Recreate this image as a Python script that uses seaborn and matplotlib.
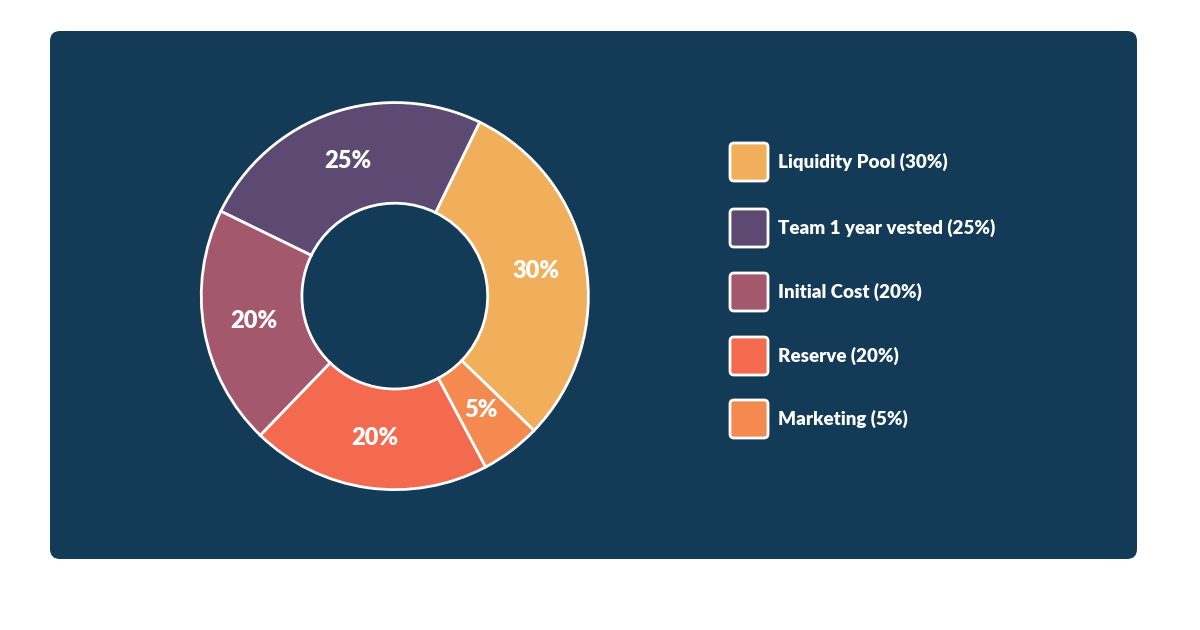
import matplotlib
matplotlib.use("Agg")
import matplotlib.pyplot as plt
import seaborn as sns
from matplotlib.patches import FancyBboxPatch

categories = ["Liquidity Pool", "Team 1 year vested", "Initial Cost", "Reserve", "Marketing"]
shares = [30, 25, 20, 20, 5]
colors = ["#F1AF5B", "#5C4A72", "#A3586D", "#F46A4E", "#F48A4F"]

BG = "#133A57"
sns.set_theme(style="white")
plt.rcParams["font.family"] = ["Lato", "DejaVu Sans"]

fig = plt.figure(figsize=(12, 6.3), dpi=100, facecolor="white")

# full-figure pixel axes for background card and legend
base = fig.add_axes([0, 0, 1, 1])
base.set_xlim(0, 1200)
base.set_ylim(630, 0)
base.axis("off")
base.add_patch(FancyBboxPatch((50, 31), 1087, 528, boxstyle="round,pad=0,rounding_size=10",
                              facecolor=BG, edgecolor="none"))

ys = [162, 228, 292, 356, 419]
for y, cat, val, col in zip(ys, categories, shares, colors):
    base.add_patch(FancyBboxPatch((730, y - 19), 38, 38, boxstyle="round,pad=0,rounding_size=4",
                                  facecolor=col, edgecolor="white", linewidth=2))
    base.text(778, y, f"{cat} ({val}%)", color="white", fontsize=13.5,
              fontweight="heavy", va="center", ha="left")

ax = fig.add_axes([0.127, 0.146, 0.404, 0.768])
wedges, texts, autotexts = ax.pie(
    shares, colors=colors, startangle=-44, counterclock=True,
    autopct="%d%%", pctdistance=0.74, radius=1,
    wedgeprops=dict(width=0.52, edgecolor="white", linewidth=2),
    textprops=dict(color="white", fontsize=17, fontweight="heavy"),
)
ax.set_aspect("equal")
ax.axis("off")

fig.savefig("out.png", dpi=100, facecolor="white")
